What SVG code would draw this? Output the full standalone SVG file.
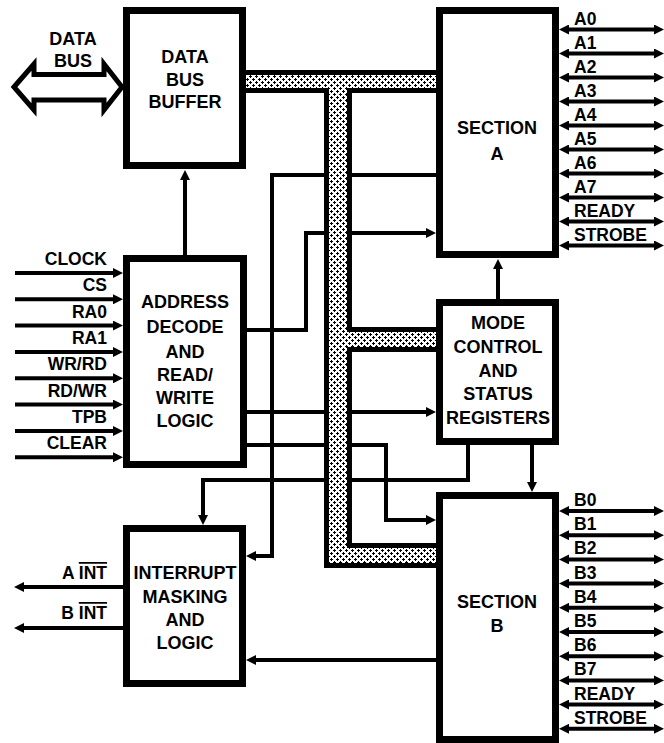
<svg xmlns="http://www.w3.org/2000/svg" width="664" height="743" viewBox="0 0 664 743">
<style>
.box{fill:#fff;stroke:#000;stroke-width:7}
.bt{font-family:"Liberation Sans",Arial,sans-serif;font-weight:bold;font-size:18px;text-anchor:middle;fill:#000}
.lb{font-family:"Liberation Sans",Arial,sans-serif;font-weight:bold;font-size:17.5px;fill:#000}
.le{text-anchor:end}
.w{fill:none;stroke:#000;stroke-width:4;stroke-linejoin:miter}
.ar{marker-end:url(#ah)}
.dar{marker-start:url(#ah);marker-end:url(#ah)}
</style>
<defs>
<marker id="ah" viewBox="0 0 10 10" refX="0" refY="5" markerWidth="10" markerHeight="10" markerUnits="userSpaceOnUse" orient="auto-start-reverse">
<path d="M0,0 L10,5 L0,10 z" fill="#000"/>
</marker>
<pattern id="stip" width="6" height="6" patternUnits="userSpaceOnUse">
<rect width="6" height="6" fill="#fff"/>
<rect x="0" y="1" width="3" height="1" fill="#000"/>
<rect x="1" y="0" width="1" height="3" fill="#000"/>
<rect x="3" y="4" width="3" height="1" fill="#000"/>
<rect x="4" y="3" width="1" height="3" fill="#000"/>
</pattern>
</defs>

<g id="connectors">
<path class="w ar" d="M185 255 V180"/>
<path class="w ar" d="M498 299 V269"/>
<path class="w ar" d="M532 445 V482"/>
<path class="w ar" d="M468 445 V480 H203 V515"/>
<path class="w ar" d="M436 175 H272 V556 H256"/>
<path class="w ar" d="M247 330 H306 V233 H426"/>
<path class="w ar" d="M247 412 H426"/>
<path class="w ar" d="M247 445 H386 V520 H426"/>
<path class="w ar" d="M436 660 H256"/>
</g>

<g id="bus">
<path d="M240 70 H440 V93 H352 V327 H440 V352 H352 V543 H440 V568 H324 V93 H240 Z" fill="#000"/>
<path d="M240 75 H440 V88 H347 V332 H440 V347 H347 V548 H440 V563 H329 V88 H240 Z" fill="url(#stip)" shape-rendering="crispEdges"/>
</g>

<g id="databus">
<polygon points="14,87 34,64 34,74.5 104,74.5 104,64 122,87 104,110 104,100 34,100 34,110" fill="#fff" stroke="#000" stroke-width="5" stroke-linejoin="miter"/>
<text class="bt" x="73" y="45">DATA</text>
<text class="bt" x="73" y="67">BUS</text>
</g>

<g id="dbb">
<rect class="box" x="126.5" y="10.5" width="116" height="155"/>
<text class="bt" x="185" y="63">DATA</text>
<text class="bt" x="185" y="86">BUS</text>
<text class="bt" x="185" y="108">BUFFER</text>
</g>

<g id="addr">
<rect class="box" x="126.5" y="258.5" width="117" height="206"/>
<text class="bt" x="185" y="308">ADDRESS</text>
<text class="bt" x="185" y="333">DECODE</text>
<text class="bt" x="185" y="358">AND</text>
<text class="bt" x="185" y="381">READ/</text>
<text class="bt" x="185" y="404">WRITE</text>
<text class="bt" x="185" y="427">LOGIC</text>
</g>

<g id="inputs">
<path class="w ar" d="M15 273 H113"/>
<path class="w ar" d="M15 299.3 H113"/>
<path class="w ar" d="M15 325.6 H113"/>
<path class="w ar" d="M15 352 H113"/>
<path class="w ar" d="M15 378.3 H113"/>
<path class="w ar" d="M15 404.6 H113"/>
<path class="w ar" d="M15 431 H113"/>
<path class="w ar" d="M15 457.3 H113"/>
<text class="lb le" x="107" y="265">CLOCK</text>
<text class="lb le" x="107" y="291">CS</text>
<text class="lb le" x="107" y="317.6">RA0</text>
<text class="lb le" x="107" y="344">RA1</text>
<text class="lb le" x="107" y="370.3">WR/RD</text>
<text class="lb le" x="107" y="396.6">RD/WR</text>
<text class="lb le" x="107" y="423">TPB</text>
<text class="lb le" x="107" y="449.3">CLEAR</text>
</g>

<g id="intr">
<rect class="box" x="126.5" y="528.5" width="116" height="155"/>
<text class="bt" x="185" y="579">INTERRUPT</text>
<text class="bt" x="185" y="603">MASKING</text>
<text class="bt" x="185" y="626">AND</text>
<text class="bt" x="185" y="649">LOGIC</text>
<path class="w ar" d="M123 587 H24"/>
<path class="w ar" d="M123 628 H24"/>
<text class="lb le" x="107" y="579">A <tspan text-decoration="overline">INT</tspan></text>
<text class="lb le" x="107" y="619">B <tspan text-decoration="overline">INT</tspan></text>
</g>

<g id="secA">
<rect class="box" x="439.5" y="10.5" width="116" height="244"/>
<text class="bt" x="497" y="134">SECTION</text>
<text class="bt" x="497" y="160">A</text>
</g>

<g id="portA">
<path class="w dar" d="M569 29.5 H654"/>
<path class="w dar" d="M569 53.5 H654"/>
<path class="w dar" d="M569 77.5 H654"/>
<path class="w dar" d="M569 101.5 H654"/>
<path class="w dar" d="M569 125.5 H654"/>
<path class="w dar" d="M569 149.5 H654"/>
<path class="w dar" d="M569 173.5 H654"/>
<path class="w dar" d="M569 197.5 H654"/>
<path class="w dar" d="M569 221.5 H654"/>
<path class="w dar" d="M569 245.5 H654"/>
<text class="lb" x="574" y="24.5">A0</text>
<text class="lb" x="574" y="48.5">A1</text>
<text class="lb" x="574" y="72.5">A2</text>
<text class="lb" x="574" y="96.5">A3</text>
<text class="lb" x="574" y="120.5">A4</text>
<text class="lb" x="574" y="144.5">A5</text>
<text class="lb" x="574" y="168.5">A6</text>
<text class="lb" x="574" y="192.5">A7</text>
<text class="lb" x="574" y="216.5">READY</text>
<text class="lb" x="574" y="240.5">STROBE</text>
</g>

<g id="mode">
<rect class="box" x="439.5" y="302.5" width="116" height="139"/>
<text class="bt" x="498" y="329">MODE</text>
<text class="bt" x="498" y="353">CONTROL</text>
<text class="bt" x="498" y="377">AND</text>
<text class="bt" x="498" y="400">STATUS</text>
<text class="bt" x="498" y="424">REGISTERS</text>
</g>

<g id="secB">
<rect class="box" x="439.5" y="495.5" width="116" height="244"/>
<text class="bt" x="497" y="608">SECTION</text>
<text class="bt" x="497" y="632">B</text>
</g>

<g id="portB">
<path class="w dar" d="M569 511 H654"/>
<path class="w dar" d="M569 535.2 H654"/>
<path class="w dar" d="M569 559.4 H654"/>
<path class="w dar" d="M569 583.6 H654"/>
<path class="w dar" d="M569 607.8 H654"/>
<path class="w dar" d="M569 632 H654"/>
<path class="w dar" d="M569 656.2 H654"/>
<path class="w dar" d="M569 680.4 H654"/>
<path class="w dar" d="M569 704.6 H654"/>
<path class="w dar" d="M569 728.8 H654"/>
<text class="lb" x="574" y="506">B0</text>
<text class="lb" x="574" y="530.2">B1</text>
<text class="lb" x="574" y="554.4">B2</text>
<text class="lb" x="574" y="578.6">B3</text>
<text class="lb" x="574" y="602.8">B4</text>
<text class="lb" x="574" y="627">B5</text>
<text class="lb" x="574" y="651.2">B6</text>
<text class="lb" x="574" y="675.4">B7</text>
<text class="lb" x="574" y="699.6">READY</text>
<text class="lb" x="574" y="723.8">STROBE</text>
</g>
</svg>
